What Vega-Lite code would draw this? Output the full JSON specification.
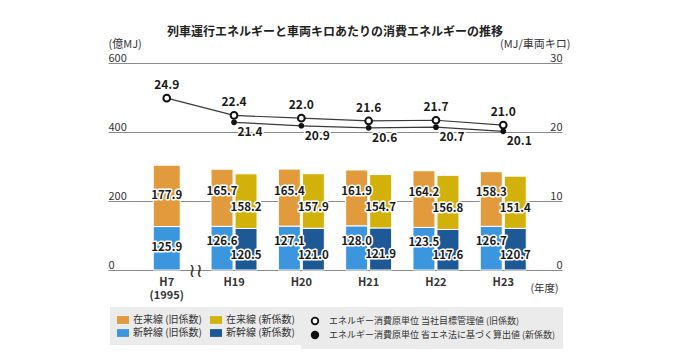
{
  "$schema": "https://vega.github.io/schema/vega-lite/v6.json",
  "width": 454,
  "height": 207,
  "autosize": "none",
  "padding": {"left": 108, "top": 63, "right": 118, "bottom": 93},
  "background": "#ffffff",
  "config": {"font": "Noto Sans CJK JP", "view": {"stroke": null}},
  "title": {
    "text": "列車運行エネルギーと車両キロあたりの消費エネルギーの推移",
    "font": "Noto Sans CJK JP",
    "fontSize": 12,
    "fontWeight": "bold",
    "color": "#222222",
    "anchor": "middle",
    "offset": 1,
    "dy": 2
  },
  "datasets": {
    "bars": [
      {"year": "H7", "coef": "旧", "line": "新幹線", "value": 125.9, "series": "新幹線 (旧係数)"},
      {"year": "H7", "coef": "旧", "line": "在来線", "value": 177.9, "series": "在来線 (旧係数)"},
      {"year": "H19", "coef": "旧", "line": "新幹線", "value": 126.6, "series": "新幹線 (旧係数)"},
      {"year": "H19", "coef": "旧", "line": "在来線", "value": 165.7, "series": "在来線 (旧係数)"},
      {"year": "H19", "coef": "新", "line": "新幹線", "value": 120.5, "series": "新幹線 (新係数)"},
      {"year": "H19", "coef": "新", "line": "在来線", "value": 158.2, "series": "在来線 (新係数)"},
      {"year": "H20", "coef": "旧", "line": "新幹線", "value": 127.1, "series": "新幹線 (旧係数)"},
      {"year": "H20", "coef": "旧", "line": "在来線", "value": 165.4, "series": "在来線 (旧係数)"},
      {"year": "H20", "coef": "新", "line": "新幹線", "value": 121.0, "series": "新幹線 (新係数)"},
      {"year": "H20", "coef": "新", "line": "在来線", "value": 157.9, "series": "在来線 (新係数)"},
      {"year": "H21", "coef": "旧", "line": "新幹線", "value": 128.0, "series": "新幹線 (旧係数)"},
      {"year": "H21", "coef": "旧", "line": "在来線", "value": 161.9, "series": "在来線 (旧係数)"},
      {"year": "H21", "coef": "新", "line": "新幹線", "value": 121.9, "series": "新幹線 (新係数)"},
      {"year": "H21", "coef": "新", "line": "在来線", "value": 154.7, "series": "在来線 (新係数)"},
      {"year": "H22", "coef": "旧", "line": "新幹線", "value": 123.5, "series": "新幹線 (旧係数)"},
      {"year": "H22", "coef": "旧", "line": "在来線", "value": 164.2, "series": "在来線 (旧係数)"},
      {"year": "H22", "coef": "新", "line": "新幹線", "value": 117.6, "series": "新幹線 (新係数)"},
      {"year": "H22", "coef": "新", "line": "在来線", "value": 156.8, "series": "在来線 (新係数)"},
      {"year": "H23", "coef": "旧", "line": "新幹線", "value": 126.7, "series": "新幹線 (旧係数)"},
      {"year": "H23", "coef": "旧", "line": "在来線", "value": 158.3, "series": "在来線 (旧係数)"},
      {"year": "H23", "coef": "新", "line": "新幹線", "value": 120.7, "series": "新幹線 (新係数)"},
      {"year": "H23", "coef": "新", "line": "在来線", "value": 151.4, "series": "在来線 (新係数)"}
    ],
    "lines": [
      {"year": "H7", "coef": "旧", "v": 24.9, "series": "エネルギー消費原単位 当社目標管理値 (旧係数)"},
      {"year": "H19", "coef": "旧", "v": 22.4, "series": "エネルギー消費原単位 当社目標管理値 (旧係数)"},
      {"year": "H20", "coef": "旧", "v": 22.0, "series": "エネルギー消費原単位 当社目標管理値 (旧係数)"},
      {"year": "H21", "coef": "旧", "v": 21.6, "series": "エネルギー消費原単位 当社目標管理値 (旧係数)"},
      {"year": "H22", "coef": "旧", "v": 21.7, "series": "エネルギー消費原単位 当社目標管理値 (旧係数)"},
      {"year": "H23", "coef": "旧", "v": 21.0, "series": "エネルギー消費原単位 当社目標管理値 (旧係数)"},
      {"year": "H19", "coef": "新", "v": 21.4, "series": "エネルギー消費原単位 省エネ法に基づく算出値 (新係数)"},
      {"year": "H20", "coef": "新", "v": 20.9, "series": "エネルギー消費原単位 省エネ法に基づく算出値 (新係数)"},
      {"year": "H21", "coef": "新", "v": 20.6, "series": "エネルギー消費原単位 省エネ法に基づく算出値 (新係数)"},
      {"year": "H22", "coef": "新", "v": 20.7, "series": "エネルギー消費原単位 省エネ法に基づく算出値 (新係数)"},
      {"year": "H23", "coef": "新", "v": 20.1, "series": "エネルギー消費原単位 省エネ法に基づく算出値 (新係数)"}
    ]
  },
  "layer": [
    {
      "data": {"name": "bars"},
      "transform": [
        {"stack": "value", "groupby": ["year", "coef"], "sort": [{"field": "line", "order": "descending"}], "as": ["y0", "y1"]},
        {"calculate": "(datum.y0 + datum.y1) / 2", "as": "mid"}
      ],
      "encoding": {
        "x": {
          "field": "year", "type": "nominal",
          "scale": {"domain": ["H7", "H19", "H20", "H21", "H22", "H23"], "paddingInner": 0.3165, "paddingOuter": 0.531},
          "axis": {
            "orient": "bottom", "title": "(年度)", "titleAngle": 0, "titleAlign": "left", "titleBaseline": "alphabetic",
            "titleX": 422, "titleY": 21, "titleFontWeight": "normal", "titleFontSize": 10.5, "titleColor": "#333333",
            "titleFont": "Noto Sans CJK JP",
            "labelAngle": 0, "labelPadding": 6, "labelFontSize": 11, "labelColor": "#333333", "labelFontWeight": "bold",
            "labelFont": "Noto Sans CJK JP", "labelLineHeight": 13,
            "labelExpr": "datum.value == 'H7' ? ['H7', '(1995)'] : datum.value",
            "tickSize": 0, "domain": false, "grid": false
          }
        },
        "y": {
          "field": "mid", "type": "quantitative",
          "scale": {"domain": [0, 600]},
          "axis": {
            "orient": "left", "values": [0, 200, 400, 600], "tickSize": 0, "domain": false, "grid": true,
            "gridColor": "#8a8a8a", "gridWidth": 1, "gridOpacity": 1,
            "labelAlign": "left", "labelBaseline": "alphabetic", "labelPadding": 0, "labelOffset": -2,
            "labelFontSize": 11, "labelColor": "#333333", "labelFont": "Noto Sans CJK JP",
            "title": "(億MJ)", "titleAngle": 0, "titleAlign": "left", "titleBaseline": "alphabetic",
            "titleX": 0, "titleY": -16, "titleFontWeight": "normal", "titleFontSize": 11, "titleColor": "#333333",
            "titleFont": "Noto Sans CJK JP"
          }
        }
      },
      "layer": [
        {
          "transform": [{"filter": "datum.year != 'H7'"}],
          "mark": {"type": "bar", "stroke": "#ffffff", "strokeWidth": 1},
          "encoding": {
            "xOffset": {"field": "coef", "type": "nominal", "scale": {"domain": ["旧", "新"], "paddingInner": 0.083, "paddingOuter": 0}},
            "y": {
              "field": "y0", "type": "quantitative",
              "scale": {"domain": [0, 600]},
              "axis": {
                "orient": "left", "values": [0, 200, 400, 600], "tickSize": 0, "domain": false, "grid": true,
                "gridColor": "#8a8a8a", "gridWidth": 1, "gridOpacity": 1,
                "labelAlign": "left", "labelBaseline": "alphabetic", "labelPadding": 0, "labelOffset": -2,
                "labelFontSize": 11, "labelColor": "#333333", "labelFont": "Noto Sans CJK JP",
                "title": "(億MJ)", "titleAngle": 0, "titleAlign": "left", "titleBaseline": "alphabetic",
                "titleX": 0, "titleY": -16, "titleFontWeight": "normal", "titleFontSize": 11, "titleColor": "#333333",
                "titleFont": "Noto Sans CJK JP"
              }
            },
            "y2": {"field": "y1"},
            "color": {
              "field": "series", "type": "nominal",
              "scale": {
                "domain": ["在来線 (旧係数)", "在来線 (新係数)", "新幹線 (旧係数)", "新幹線 (新係数)"],
                "range": ["#E29B3C", "#D2B20A", "#3B96DD", "#1C5995"]
              },
              "legend": {
                "title": null, "orient": "none", "legendX": 2, "legendY": 244, "direction": "horizontal", "columns": 2,
                "fillColor": "#ebebeb", "padding": 7, "labelFontSize": 10, "labelFont": "Noto Sans CJK JP", "labelColor": "#333333",
                "symbolType": "M-1,-0.65H1V0.65H-1Z", "symbolSize": 144, "symbolStrokeWidth": 0, "labelOffset": 4, "columnPadding": 8, "rowPadding": 2, "labelLimit": 400
              }
            }
          }
        },
        {
          "transform": [{"filter": "datum.year == 'H7'"}],
          "mark": {"type": "bar", "width": 27, "stroke": "#ffffff", "strokeWidth": 1},
          "encoding": {
            "y": {
              "field": "y0", "type": "quantitative",
              "scale": {"domain": [0, 600]},
              "axis": {
                "orient": "left", "values": [0, 200, 400, 600], "tickSize": 0, "domain": false, "grid": true,
                "gridColor": "#8a8a8a", "gridWidth": 1, "gridOpacity": 1,
                "labelAlign": "left", "labelBaseline": "alphabetic", "labelPadding": 0, "labelOffset": -2,
                "labelFontSize": 11, "labelColor": "#333333", "labelFont": "Noto Sans CJK JP",
                "title": "(億MJ)", "titleAngle": 0, "titleAlign": "left", "titleBaseline": "alphabetic",
                "titleX": 0, "titleY": -16, "titleFontWeight": "normal", "titleFontSize": 11, "titleColor": "#333333",
                "titleFont": "Noto Sans CJK JP"
              }
            },
            "y2": {"field": "y1"},
            "color": {
              "field": "series", "type": "nominal",
              "scale": {
                "domain": ["在来線 (旧係数)", "在来線 (新係数)", "新幹線 (旧係数)", "新幹線 (新係数)"],
                "range": ["#E29B3C", "#D2B20A", "#3B96DD", "#1C5995"]
              },
              "legend": {
                "title": null, "orient": "none", "legendX": 2, "legendY": 244, "direction": "horizontal", "columns": 2,
                "fillColor": "#ebebeb", "padding": 7, "labelFontSize": 10, "labelFont": "Noto Sans CJK JP", "labelColor": "#333333",
                "symbolType": "M-1,-0.65H1V0.65H-1Z", "symbolSize": 144, "symbolStrokeWidth": 0, "labelOffset": 4, "columnPadding": 8, "rowPadding": 2, "labelLimit": 400
              }
            }
          }
        },
        {
          "transform": [{"filter": "datum.year == 'H7' && datum.line == '新幹線'"}],
          "mark": {"type": "text", "text": "≀≀", "font": "DejaVu Sans", "fontSize": 19, "dx": 29, "dy": 1, "color": "#333333"},
          "encoding": {
            "y": {
              "field": "y0", "type": "quantitative",
              "scale": {"domain": [0, 600]},
              "axis": {
                "orient": "left", "values": [0, 200, 400, 600], "tickSize": 0, "domain": false, "grid": true,
                "gridColor": "#8a8a8a", "gridWidth": 1, "gridOpacity": 1,
                "labelAlign": "left", "labelBaseline": "alphabetic", "labelPadding": 0, "labelOffset": -2,
                "labelFontSize": 11, "labelColor": "#333333", "labelFont": "Noto Sans CJK JP",
                "title": "(億MJ)", "titleAngle": 0, "titleAlign": "left", "titleBaseline": "alphabetic",
                "titleX": 0, "titleY": -16, "titleFontWeight": "normal", "titleFontSize": 11, "titleColor": "#333333",
                "titleFont": "Noto Sans CJK JP"
              }
            }
          }
        },
        {
          "transform": [{"filter": "datum.year != 'H7' && datum.coef == '旧'"}],
          "mark": {"type": "text", "fontSize": 11.5, "fontWeight": "bold", "font": "Noto Sans CJK JP", "fill": "#ffffff", "stroke": "#ffffff", "strokeWidth": 3, "strokeJoin": "round", "dy": -6},
          "encoding": {
            "xOffset": {"field": "coef", "type": "nominal"},
            "text": {"field": "value", "type": "quantitative", "format": ".1f"}
          }
        },
        {
          "transform": [{"filter": "datum.year != 'H7' && datum.coef == '旧'"}],
          "mark": {"type": "text", "fontSize": 11.5, "fontWeight": "bold", "font": "Noto Sans CJK JP", "fill": "#1a1a1a", "dy": -6},
          "encoding": {
            "xOffset": {"field": "coef", "type": "nominal"},
            "text": {"field": "value", "type": "quantitative", "format": ".1f"}
          }
        },
        {
          "transform": [{"filter": "datum.coef == '新'"}],
          "mark": {"type": "text", "fontSize": 11.5, "fontWeight": "bold", "font": "Noto Sans CJK JP", "fill": "#ffffff", "stroke": "#ffffff", "strokeWidth": 3, "strokeJoin": "round", "dy": 6.5},
          "encoding": {
            "xOffset": {"field": "coef", "type": "nominal"},
            "text": {"field": "value", "type": "quantitative", "format": ".1f"}
          }
        },
        {
          "transform": [{"filter": "datum.coef == '新'"}],
          "mark": {"type": "text", "fontSize": 11.5, "fontWeight": "bold", "font": "Noto Sans CJK JP", "fill": "#1a1a1a", "dy": 6.5},
          "encoding": {
            "xOffset": {"field": "coef", "type": "nominal"},
            "text": {"field": "value", "type": "quantitative", "format": ".1f"}
          }
        },
        {
          "transform": [{"filter": "datum.year == 'H7'"}],
          "mark": {"type": "text", "fontSize": 11.5, "fontWeight": "bold", "font": "Noto Sans CJK JP", "fill": "#ffffff", "stroke": "#ffffff", "strokeWidth": 3, "strokeJoin": "round"},
          "encoding": {
            "text": {"field": "value", "type": "quantitative", "format": ".1f"}
          }
        },
        {
          "transform": [{"filter": "datum.year == 'H7'"}],
          "mark": {"type": "text", "fontSize": 11.5, "fontWeight": "bold", "font": "Noto Sans CJK JP", "fill": "#1a1a1a"},
          "encoding": {
            "text": {"field": "value", "type": "quantitative", "format": ".1f"}
          }
        }
      ]
    },
    {
      "data": {"name": "lines"},
      "encoding": {
        "x": {
          "field": "year", "type": "nominal",
          "scale": {"domain": ["H7", "H19", "H20", "H21", "H22", "H23"], "paddingInner": 0.3165, "paddingOuter": 0.531},
          "axis": {
            "orient": "bottom", "title": "(年度)", "titleAngle": 0, "titleAlign": "left", "titleBaseline": "alphabetic",
            "titleX": 422, "titleY": 21, "titleFontWeight": "normal", "titleFontSize": 10.5, "titleColor": "#333333",
            "titleFont": "Noto Sans CJK JP",
            "labelAngle": 0, "labelPadding": 6, "labelFontSize": 11, "labelColor": "#333333", "labelFontWeight": "bold",
            "labelFont": "Noto Sans CJK JP", "labelLineHeight": 13,
            "labelExpr": "datum.value == 'H7' ? ['H7', '(1995)'] : datum.value",
            "tickSize": 0, "domain": false, "grid": false
          }
        },
        "y": {
          "field": "v", "type": "quantitative", "scale": {"domain": [0, 30]},
          "axis": {
            "orient": "right", "values": [0, 10, 20, 30], "tickSize": 0, "domain": false, "grid": false,
            "labelAlign": "right", "labelBaseline": "alphabetic", "labelPadding": 0, "labelOffset": -2,
            "labelFontSize": 11, "labelColor": "#333333", "labelFont": "Noto Sans CJK JP",
            "title": "(MJ/車両キロ)", "titleAngle": 0, "titleAlign": "right", "titleBaseline": "alphabetic",
            "titleX": 8, "titleY": -16, "titleFontWeight": "normal", "titleFontSize": 11, "titleColor": "#333333",
            "titleFont": "Noto Sans CJK JP"
          }
        }
      },
      "layer": [
        {
          "mark": {"type": "line", "color": "#3a3a3a", "strokeWidth": 1.2},
          "encoding": {"detail": {"field": "coef", "type": "nominal"}}
        },
        {
          "transform": [{"filter": "datum.coef == '旧'"}],
          "mark": {"type": "point", "shape": "circle", "filled": true, "size": 45, "stroke": "#111111", "strokeWidth": 2, "opacity": 1},
          "encoding": {
            "fill": {
              "field": "series", "type": "nominal",
              "scale": {"domain": ["エネルギー消費原単位 当社目標管理値 (旧係数)", "エネルギー消費原単位 省エネ法に基づく算出値 (新係数)"], "range": ["#ffffff", "#111111"]},
              "legend": {
                "title": null, "orient": "none", "legendX": 193, "legendY": 244, "direction": "horizontal", "columns": 1,
                "fillColor": "#ebebeb", "padding": 7, "labelFontSize": 9, "labelFont": "Noto Sans CJK JP", "labelColor": "#333333",
                "symbolType": "M-0.55,0A0.55,0.55 0 1,0 0.55,0A0.55,0.55 0 1,0 -0.55,0Z", "symbolSize": 144,
                "symbolStrokeColor": "#111111", "symbolStrokeWidth": 1.8,
                "labelOffset": 7, "rowPadding": -3, "labelLimit": 400
              }
            }
          }
        },
        {
          "transform": [{"filter": "datum.coef == '新'"}],
          "mark": {"type": "point", "shape": "circle", "filled": true, "size": 32, "opacity": 1},
          "encoding": {
            "fill": {
              "field": "series", "type": "nominal",
              "scale": {"domain": ["エネルギー消費原単位 当社目標管理値 (旧係数)", "エネルギー消費原単位 省エネ法に基づく算出値 (新係数)"], "range": ["#ffffff", "#111111"]},
              "legend": {
                "title": null, "orient": "none", "legendX": 193, "legendY": 244, "direction": "horizontal", "columns": 1,
                "fillColor": "#ebebeb", "padding": 7, "labelFontSize": 9, "labelFont": "Noto Sans CJK JP", "labelColor": "#333333",
                "symbolType": "M-0.55,0A0.55,0.55 0 1,0 0.55,0A0.55,0.55 0 1,0 -0.55,0Z", "symbolSize": 144,
                "symbolStrokeColor": "#111111", "symbolStrokeWidth": 1.8,
                "labelOffset": 7, "rowPadding": -3, "labelLimit": 400
              }
            }
          }
        },
        {
          "transform": [{"filter": "datum.coef == '旧'"}],
          "mark": {"type": "text", "fontSize": 12, "fontWeight": "bold", "font": "Noto Sans CJK JP", "fill": "#1a1a1a", "dy": -13},
          "encoding": {"text": {"field": "v", "type": "quantitative", "format": ".1f"}}
        },
        {
          "transform": [{"filter": "datum.coef == '新'"}],
          "mark": {"type": "text", "fontSize": 12, "fontWeight": "bold", "font": "Noto Sans CJK JP", "fill": "#ffffff", "stroke": "#ffffff", "strokeWidth": 3, "strokeJoin": "round", "dx": 16, "dy": 10},
          "encoding": {"text": {"field": "v", "type": "quantitative", "format": ".1f"}}
        },
        {
          "transform": [{"filter": "datum.coef == '新'"}],
          "mark": {"type": "text", "fontSize": 12, "fontWeight": "bold", "font": "Noto Sans CJK JP", "fill": "#1a1a1a", "dx": 16, "dy": 10},
          "encoding": {"text": {"field": "v", "type": "quantitative", "format": ".1f"}}
        }
      ]
    }
  ],
  "resolve": {"scale": {"y": "independent"}}
}
